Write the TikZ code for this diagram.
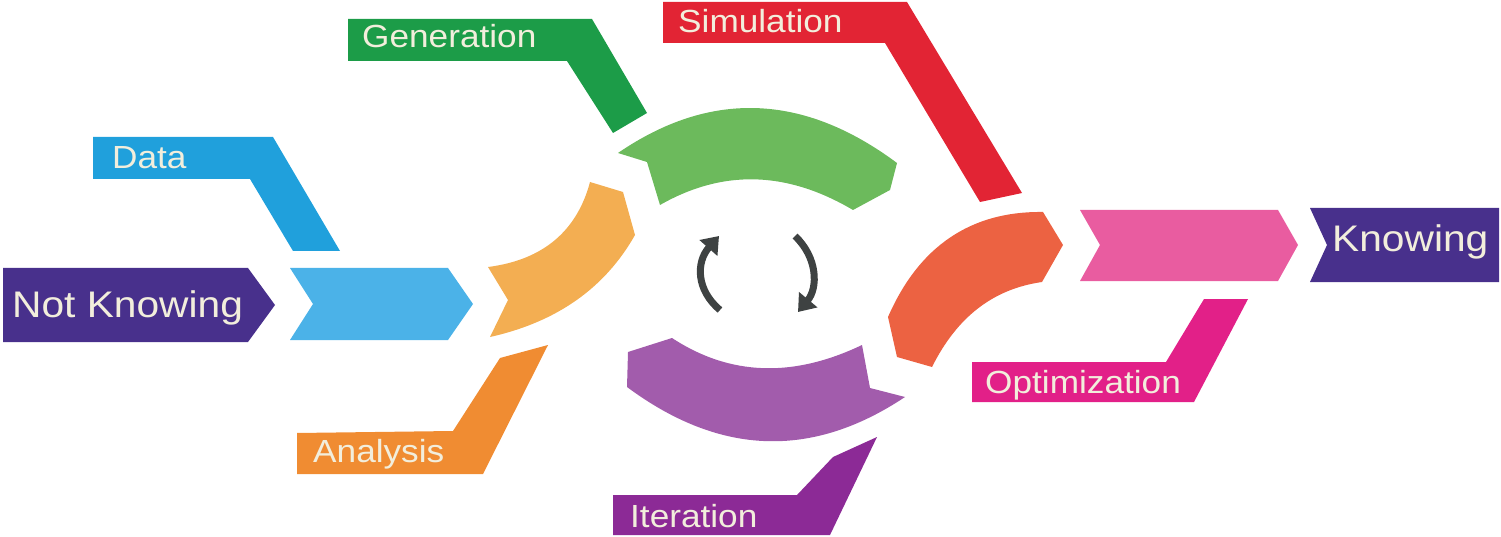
\documentclass[tikz,border=0pt]{standalone}
\usepackage{fontspec}
\setmainfont{Liberation Sans}
\newfontfamily\lblfont[FakeStretch=1.1]{Liberation Sans}
\usetikzlibrary{arrows.meta}

\definecolor{knowpurple}{RGB}{72,48,140}
\definecolor{datablue}{RGB}{32,160,220}
\definecolor{chevblue}{RGB}{75,178,232}
\definecolor{genlabel}{RGB}{28,156,72}
\definecolor{genarc}{RGB}{108,186,92}
\definecolor{simlabel}{RGB}{226,36,52}
\definecolor{simarc}{RGB}{236,98,66}
\definecolor{analabel}{RGB}{240,140,50}
\definecolor{anaarc}{RGB}{243,174,82}
\definecolor{itlabel}{RGB}{140,42,150}
\definecolor{itarc}{RGB}{162,92,172}
\definecolor{optlabel}{RGB}{226,32,136}
\definecolor{optchev}{RGB}{233,92,160}
\definecolor{cycgray}{RGB}{62,66,66}
\definecolor{lbltext}{RGB}{242,238,220}

\begin{document}
\begin{tikzpicture}[x=1pt,y=-1pt,
    lbl/.style={anchor=base west,inner sep=0pt,text=lbltext,font=\lblfont\fontsize{32}{34}\selectfont},
    big/.style={lbl,font=\lblfont\fontsize{37}{40}\selectfont},
    cyc/.style={line width=7pt,draw=cycgray,-{Triangle[width=23pt,length=16pt]}}]
    \useasboundingbox (0,0) rectangle (1501,537);

    \fill[knowpurple] (3,268) -- (248,268) -- (275,305) -- (248,342) -- (3,342) -- cycle;
    \fill[chevblue] (290,268) -- (448,268) -- (473,304) -- (448,340) -- (290,340) -- (313,304) -- cycle;
    \fill[optchev] (1080,210) -- (1278,210) -- (1298,245) -- (1278,281) -- (1080,281) -- (1100,245) -- cycle;
    \fill[knowpurple] (1310,208) -- (1499,208) -- (1499,282) -- (1310,282) -- (1327,245) -- cycle;

    \fill[datablue] (93,137) -- (273,137) -- (340,251) -- (293,251) -- (250,179) -- (93,179) -- cycle;
    \fill[genlabel] (348,19) -- (592,19) -- (647,113) -- (613,133) -- (567,61) -- (348,61) -- cycle;
    \fill[simlabel] (663,2) -- (907,2) -- (1022,193) -- (980,202) -- (885,43) -- (663,43) -- cycle;
    \fill[analabel] (297,433) -- (453,431) -- (500,358) -- (548,345) -- (483,474) -- (297,474) -- cycle;
    \fill[itlabel] (613,495) -- (797,495) -- (833,457) -- (877,437) -- (830,535) -- (613,535) -- cycle;
    \fill[optlabel] (972,362) -- (1166,362) -- (1204,299) -- (1248,299) -- (1194,402) -- (972,402) -- cycle;

    \fill[genarc] (618,153) .. controls (710,90) and (803,93) .. (897,163) -- (890,190) -- (853,210)
        .. controls (787,171) and (723,169) .. (660,205) -- (647,162) -- cycle;
    \fill[itarc] (672,338) .. controls (730,376) and (793,378) .. (862,345) -- (870,388) -- (905,397)
        .. controls (812,459) and (720,456) .. (627,387) -- (628,352) -- cycle;
    \fill[anaarc] (590,182) -- (623,192) -- (635,235) .. controls (605,288) and (557,322) .. (490,337)
        -- (508,300) -- (488,267) .. controls (543,260) and (577,231) .. (590,182) -- cycle;
    \fill[simarc] (1043,212) -- (1063,245) -- (1042,282) .. controls (993,289) and (957,317) .. (932,367)
        -- (897,357) -- (888,317) .. controls (919,246) and (971,211) .. (1043,212) -- cycle;

    \draw[cyc] (720,310) .. controls (696,290) and (696,262) .. (719,236);
    \draw[cyc] (795,236) .. controls (818,258) and (818,288) .. (798,312);

    \node[big] (notknowing) at (12,317) {Not Knowing};
    \node[lbl] (data) at (112,169) {Data};
    \node[lbl] (generation) at (362,48) {Generation};
    \node[lbl] (simulation) at (678,33) {Simulation};
    \node[lbl] (analysis) at (313,462) {Analysis};
    \node[lbl] (iteration) at (630,527) {Iteration};
    \node[lbl] (optimization) at (985,393) {Optimization};
    \node[big] (knowing) at (1332,252) {Knowing};
\end{tikzpicture}
\end{document}
